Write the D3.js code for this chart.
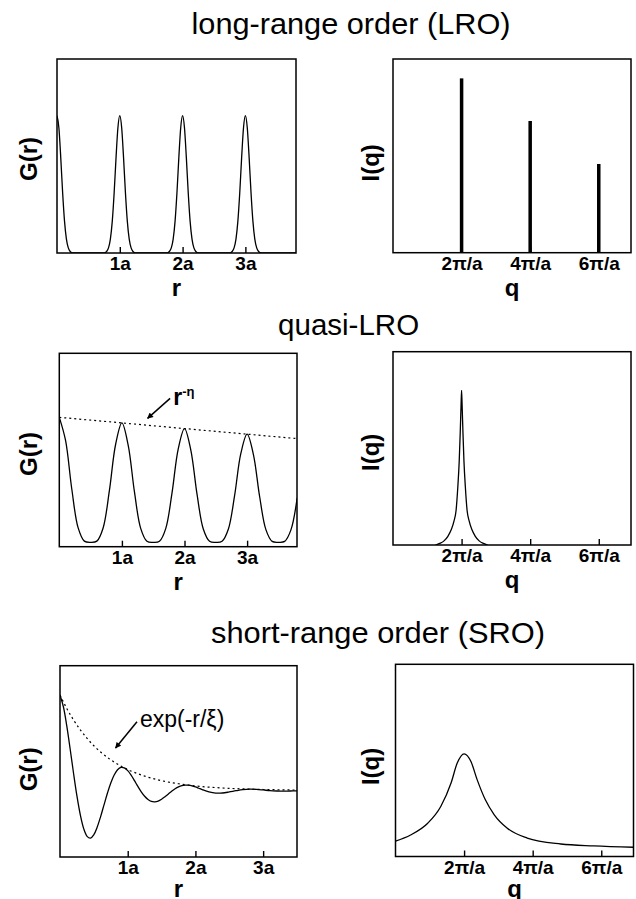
<!DOCTYPE html>
<html><head><meta charset="utf-8">
<script src="https://cdn.jsdelivr.net/npm/d3@7"></script>
<style>body{margin:0;background:#fff}svg{display:block}</style>
</head><body>
<script>
// ---------------- data ----------------
const titles = ["long-range order (LRO)", "quasi-LRO", "short-range order (SRO)"];
const rTicks = [1, 2, 3];
const rTickLabels = ["1a", "2a", "3a"];
const qTicks = [1, 2, 3];
const qTickLabels = ["2\u03c0/a", "4\u03c0/a", "6\u03c0/a"];

// LRO: G(r) sharp peaks at lattice sites (r in units of a)
const lroG = [
[0,1],[0.03,0.912],[0.06,0.693],[0.09,0.437],[0.12,0.23],[0.15,0.101],[0.18,0.037],[0.21,0.011],[0.25,0],
[0.75,0],[0.79,0.011],[0.82,0.037],[0.85,0.101],[0.88,0.23],[0.91,0.437],[0.94,0.693],[0.97,0.912],[1,1],[1.03,0.912],[1.06,0.693],[1.09,0.437],[1.12,0.23],[1.15,0.101],[1.18,0.037],[1.21,0.011],[1.25,0],
[1.75,0],[1.79,0.011],[1.82,0.037],[1.85,0.101],[1.88,0.23],[1.91,0.437],[1.94,0.693],[1.97,0.912],[2,1],[2.03,0.912],[2.06,0.693],[2.09,0.437],[2.12,0.23],[2.15,0.101],[2.18,0.037],[2.21,0.011],[2.25,0],
[2.75,0],[2.79,0.011],[2.82,0.037],[2.85,0.101],[2.88,0.23],[2.91,0.437],[2.94,0.693],[2.97,0.912],[3,1],[3.03,0.912],[3.06,0.693],[3.09,0.437],[3.12,0.23],[3.15,0.101],[3.18,0.037],[3.21,0.011],[3.25,0],[3.81,0]];
// LRO: Bragg peaks (q in units of 2pi/a)
const lroPeakQ = [1, 2, 3];
const lroPeakI = [0.90, 0.68, 0.458];

// quasi-LRO
const qlroG = [
[0,1.000],[0.1,0.821],[0.2,0.444],[0.3,0.147],[0.4,0.043],[0.5,0.034],[0.6,0.043],[0.7,0.145],[0.8,0.433],[0.9,0.792],
[1.0,0.957],[1.1,0.785],[1.2,0.425],[1.3,0.142],[1.4,0.042],[1.5,0.034],[1.6,0.042],[1.7,0.140],[1.8,0.414],[1.9,0.757],
[2.0,0.913],[2.1,0.749],[2.2,0.406],[2.3,0.137],[2.4,0.042],[2.5,0.034],[2.6,0.042],[2.7,0.135],[2.8,0.395],[2.9,0.721],
[3.0,0.870],[3.1,0.714],[3.2,0.388],[3.3,0.132],[3.4,0.041],[3.5,0.034],[3.6,0.041],[3.7,0.130],[3.8,0.377]];
const qlroEnvelope = [[0,1],[1,0.957],[2,0.913],[3,0.870],[3.79,0.836]];
const qlroI = [
[0.62,0],[0.68,0.008],[0.74,0.02],[0.80,0.045],[0.85,0.08],[0.89,0.125],[0.92,0.18],[0.945,0.30],[0.965,0.43],[0.98,0.58],[0.992,0.72],
[1,0.80],[1.008,0.72],[1.02,0.58],[1.035,0.43],[1.055,0.30],[1.08,0.18],[1.11,0.125],[1.15,0.08],[1.20,0.045],[1.26,0.02],[1.32,0.008],[1.38,0]];

// SRO
const sroG = [
[0,1.000],[0.05,0.877],[0.10,0.678],[0.15,0.435],[0.20,0.181],[0.25,-0.057],[0.30,-0.255],[0.35,-0.399],[0.40,-0.480],[0.45,-0.499],
[0.50,-0.462],[0.55,-0.382],[0.60,-0.273],[0.65,-0.150],[0.70,-0.029],[0.75,0.079],[0.80,0.163],[0.85,0.218],[0.90,0.242],[0.95,0.237],
[1.00,0.208],[1.05,0.161],[1.10,0.103],[1.15,0.043],[1.20,-0.013],[1.25,-0.060],[1.30,-0.094],[1.35,-0.114],[1.40,-0.118],[1.45,-0.110],
[1.50,-0.091],[1.55,-0.065],[1.60,-0.036],[1.65,-0.007],[1.70,0.019],[1.75,0.039],[1.80,0.052],[1.85,0.057],[1.90,0.056],[1.95,0.049],
[2.00,0.038],[2.05,0.024],[2.10,0.010],[2.20,-0.014],[2.30,-0.027],[2.40,-0.026],[2.50,-0.015],[2.60,-0.002],[2.70,0.009],[2.80,0.014],
[2.90,0.012],[3.00,0.006],[3.10,-0.001],[3.20,-0.005],[3.30,-0.007],[3.40,-0.005],[3.50,-0.003]];
const sroEnvelope = [[0,1],[0.1,0.859],[0.2,0.739],[0.3,0.635],[0.4,0.546],[0.5,0.469],[0.6,0.403],[0.75,0.321],[0.9,0.256],[1.0,0.220],
[1.25,0.151],[1.5,0.103],[1.75,0.071],[2.0,0.048],[2.5,0.023],[3.0,0.011],[3.5,0.005]];
const sroI = [[0.0,0.08],[0.22,0.112],[0.47,0.173],[0.66,0.26],[0.81,0.382],[0.90,0.486],[1.0,0.534],[1.10,0.494],[1.19,0.40],
[1.31,0.295],[1.44,0.217],[1.63,0.147],[1.92,0.096],[2.41,0.065],[2.89,0.055],[3.47,0.048]];

// ---------------- drawing ----------------
const FONT = "'Liberation Sans', Arial, Helvetica, sans-serif";
const svg = d3.select("body").append("svg").attr("width", 636).attr("height", 899);
svg.append("rect").attr("width", 636).attr("height", 899).attr("fill", "#fff");

const defs = svg.append("defs");
defs.append("marker").attr("id", "arrow").attr("viewBox", "0 0 10 10")
  .attr("refX", 9).attr("refY", 5).attr("markerWidth", 7).attr("markerHeight", 6)
  .attr("markerUnits", "userSpaceOnUse").attr("orient", "auto")
  .append("path").attr("d", "M0,0 L10,5 L0,10 z").attr("fill", "#000");

let clipN = 0;
function panel(cfg) {
  const x = d3.scaleLinear().domain(cfg.xd).range([cfg.l, cfg.r]);
  const y = d3.scaleLinear().domain(cfg.yd).range([cfg.b, cfg.t]);
  const g = svg.append("g");
  const id = "clip" + (clipN++);
  defs.append("clipPath").attr("id", id).append("rect")
    .attr("x", cfg.l).attr("y", cfg.t).attr("width", cfg.r - cfg.l).attr("height", cfg.b - cfg.t);
  const plot = g.append("g").attr("clip-path", `url(#${id})`);
  const ax = d3.axisBottom(x).tickValues(cfg.ticks).tickFormat((d, i) => cfg.labels[i])
    .tickSizeInner(-6).tickSizeOuter(0).tickPadding(4);
  const axg = g.append("g").attr("transform", `translate(0,${cfg.b})`).call(ax);
  axg.select(".domain").remove();
  axg.selectAll(".tick line").attr("stroke", "#000").attr("stroke-width", 1.4);
  axg.selectAll(".tick text").attr("font-family", FONT).attr("font-size", 19)
    .attr("font-weight", "bold").attr("fill", "#000");
  g.append("rect").attr("x", cfg.l).attr("y", cfg.t).attr("width", cfg.r - cfg.l).attr("height", cfg.b - cfg.t)
    .attr("fill", "none").attr("stroke", "#000").attr("stroke-width", 1.5);
  g.append("text").attr("x", (cfg.l + cfg.r) / 2).attr("y", Math.min(cfg.b + 43, 897)).attr("text-anchor", "middle")
    .attr("font-family", FONT).attr("font-size", 24).attr("font-weight", "bold").text(cfg.xTitle);
  g.append("text").attr("transform", `translate(${cfg.yx},${(cfg.t + cfg.b) / 2 + cfg.yoff}) rotate(-90)`)
    .attr("text-anchor", "middle").attr("dominant-baseline", "central")
    .attr("font-family", FONT).attr("font-size", 24).attr("font-weight", "bold").text(cfg.yTitle);
  return {x, y, plot, g};
}

function title(txt, cx, by, len) {
  svg.append("text").attr("x", cx).attr("y", by).attr("text-anchor", "middle")
    .attr("font-family", FONT).attr("font-size", 29).attr("textLength", len)
    .attr("lengthAdjust", "spacingAndGlyphs").text(txt);
}

function curve(p, data, c, dashed) {
  const line = d3.line().x(d => p.x(d[0])).y(d => p.y(d[1])).curve(c);
  const path = p.plot.append("path").datum(data).attr("d", line).attr("fill", "none")
    .attr("stroke", "#000").attr("stroke-width", dashed ? 1.2 : 1.3);
  if (dashed) path.attr("stroke-dasharray", "2,3");
}

function arrow(p, a, b) {
  p.g.append("line").attr("x1", p.x(a[0])).attr("y1", p.y(a[1])).attr("x2", p.x(b[0])).attr("y2", p.y(b[1]))
    .attr("stroke", "#000").attr("stroke-width", 1.5).attr("marker-end", "url(#arrow)");
}

// titles
title(titles[0], 351, 34, 319);
title(titles[1], 348.6, 335, 141);
title(titles[2], 378, 643, 334);

// Row 1 : LRO
const p1 = panel({l: 57, r: 296, t: 59, b: 253, xd: [0, 3.806], yd: [0, 1.413], ticks: rTicks, labels: rTickLabels,
  xTitle: "r", yTitle: "G(r)", yx: 28, yoff: 3});
curve(p1, lroG, d3.curveMonotoneX, false);

const p2 = panel({l: 393, r: 631, t: 59, b: 252.7, xd: [0, 3.47], yd: [0, 1], ticks: qTicks, labels: qTickLabels,
  xTitle: "q", yTitle: "I(q)", yx: 370, yoff: 7});
p2.plot.selectAll("rect.bar").data(lroPeakQ).join("rect").attr("class", "bar")
  .attr("x", d => p2.x(d) - 1.75).attr("width", 3.5)
  .attr("y", (d, i) => p2.y(lroPeakI[i])).attr("height", (d, i) => p2.y(0) - p2.y(lroPeakI[i]))
  .attr("fill", "#000");

// Row 2 : quasi-LRO
const p3 = panel({l: 59.3, r: 297, t: 353.3, b: 546.7, xd: [0, 3.797], yd: [0, 1.495], ticks: rTicks, labels: rTickLabels,
  xTitle: "r", yTitle: "G(r)", yx: 28, yoff: 4});
curve(p3, qlroG, d3.curveCatmullRom, false);
curve(p3, qlroEnvelope, d3.curveLinear, true);
arrow(p3, [1.77, 1.147], [1.41, 0.992]);
const eta = p3.g.append("text").attr("x", p3.x(1.82)).attr("y", p3.y(1.095))
  .attr("font-family", FONT).attr("font-weight", "bold").attr("font-size", 23);
eta.append("tspan").text("r");
eta.append("tspan").attr("dy", -9).attr("font-size", 13).text("-\u03b7");

const p4 = panel({l: 393, r: 631, t: 351.7, b: 545, xd: [0, 3.47], yd: [0, 1], ticks: qTicks, labels: qTickLabels,
  xTitle: "q", yTitle: "I(q)", yx: 370, yoff: 4});
curve(p4, qlroI, d3.curveMonotoneX, false);

// Row 3 : SRO
const p5 = panel({l: 60, r: 297, t: 665.7, b: 857, xd: [0, 3.5], yd: [-0.696, 1.307], ticks: rTicks, labels: rTickLabels,
  xTitle: "r", yTitle: "G(r)", yx: 28, yoff: 8});
curve(p5, sroG, d3.curveCatmullRom, false);
curve(p5, sroEnvelope, d3.curveMonotoneX, true);
arrow(p5, [1.137, 0.72], [0.82, 0.445]);
p5.g.append("text").attr("x", p5.x(1.18)).attr("y", p5.y(0.665))
  .attr("font-family", FONT).attr("font-size", 23).text("exp(-r/\u03be)");

const p6 = panel({l: 395.5, r: 633.5, t: 664.3, b: 856.5, xd: [0, 3.47], yd: [0, 1], ticks: qTicks, labels: qTickLabels,
  xTitle: "q", yTitle: "I(q)", yx: 370, yoff: 6});
curve(p6, sroI, d3.curveMonotoneX, false);
</script>
</body></html>
